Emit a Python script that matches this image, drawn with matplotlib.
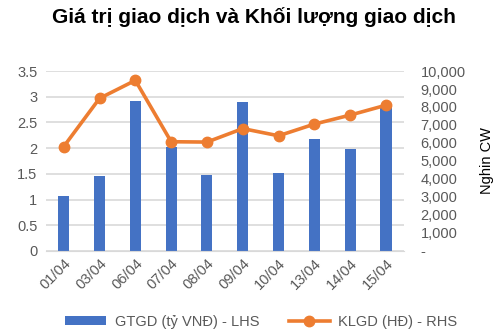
import numpy as np
import matplotlib.pyplot as plt
from matplotlib.ticker import FuncFormatter

plt.rcParams['font.family'] = ['Liberation Sans', 'DejaVu Sans']

dates = ['01/04', '03/04', '06/04', '07/04', '08/04', '09/04', '10/04', '13/04', '14/04', '15/04']
gtgd = [1.07, 1.45, 2.92, 2.02, 1.47, 2.90, 1.51, 2.17, 1.98, 2.82]
klgd = [5800, 8480, 9480, 6070, 6050, 6800, 6400, 7050, 7550, 8100]

bar_color = '#4472C4'
line_color = '#ED7D31'
text_color = '#595959'

fig = plt.figure(figsize=(4.98, 3.35), dpi=100)
ax = fig.add_axes([0.092, 0.251, 0.719, 0.537])
ax2 = ax.twinx()

x = np.arange(len(dates))
ax.bar(x, gtgd, width=0.31, color=bar_color, zorder=2, label='GTGD (tỷ VNĐ) - LHS')
ax2.plot(x, klgd, color=line_color, lw=2.6, marker='o', ms=7.5, zorder=3,
         label='KLGD (HĐ) - RHS')

ax.set_xlim(-0.5, len(dates) - 0.5)
ax.set_ylim(0, 3.5)
ax.set_yticks(np.arange(0, 3.51, 0.5))
ax.set_yticklabels(['0', '0.5', '1', '1.5', '2', '2.5', '3', '3.5'])
ax.grid(axis='y', color='#D9D9D9', lw=1.2, zorder=0)
ax.set_axisbelow(True)
ax.set_xticks(x)
ax.set_xticklabels(dates, rotation=45, ha='right', rotation_mode='anchor')

ax2.set_ylim(0, 10000)
ax2.set_yticks(np.arange(0, 10001, 1000))
ax2.yaxis.set_major_formatter(FuncFormatter(lambda v, p: '-' if v == 0 else f'{int(v):,}'))
ax2.set_ylabel('Nghin CW', fontsize=10.5, color='black', labelpad=10)

for a in (ax, ax2):
    for s in a.spines.values():
        s.set_visible(False)
    a.tick_params(length=0, labelsize=10.5, colors=text_color)
ax.spines['bottom'].set_visible(True)
ax.spines['bottom'].set_color('#D9D9D9')
ax.tick_params(axis='y', pad=6)
ax.tick_params(axis='x', pad=4)
ax2.tick_params(axis='y', pad=12)

fig.suptitle('Giá trị giao dịch và Khối lượng giao dịch', x=0.51, y=0.98,
             fontsize=15, fontweight='bold')

h1, l1 = ax.get_legend_handles_labels()
h2, l2 = ax2.get_legend_handles_labels()
leg = fig.legend(h1 + h2, l1 + l2, loc='lower center', bbox_to_anchor=(0.525, -0.02),
                 ncol=2, frameon=False, fontsize=10.5, handlelength=2.8,
                 columnspacing=2.0, handleheight=0.5, handletextpad=0.6)
for t in leg.get_texts():
    t.set_color(text_color)

fig.savefig('out.png', dpi=100)
